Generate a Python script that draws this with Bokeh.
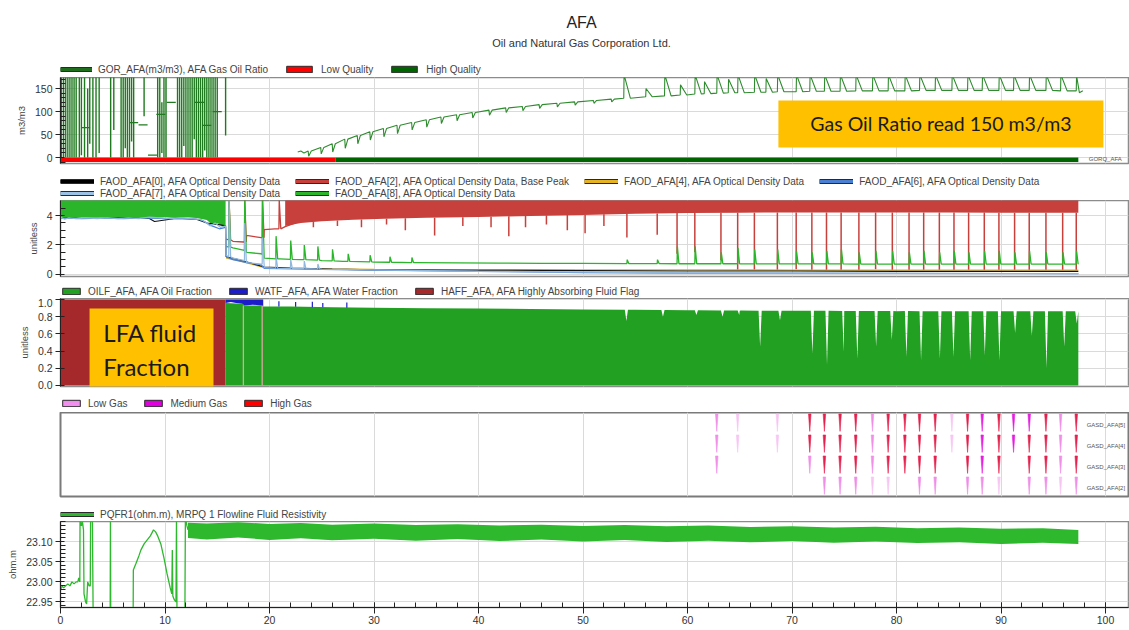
from bokeh.plotting import figure
from bokeh.models import (Range1d, FixedTicker, Legend, LegendItem, Label,
                          BoxAnnotation, PrintfTickFormatter)
from bokeh.layouts import column
from bokeh.embed import file_html
from bokeh.resources import INLINE
from bokeh.core.properties import value

NAN = float("nan")

# ====================== DATA ======================
x_ticks = [0, 10, 20, 30, 40, 50, 60, 70, 80, 90, 100]
x_minor = [0, 2, 4, 6, 8, 10, 12, 14, 16, 18, 20, 22, 24, 26, 28, 30, 32, 34, 36, 38, 40,
           42, 44, 46, 48, 50, 52, 54, 56, 58, 60, 62, 64, 66, 68, 70, 72, 74, 76, 78, 80,
           82, 84, 86, 88, 90, 92, 94, 96, 98, 100]

# ---- panel 1 : GOR ----
gor_ticks = [0, 50, 100, 150]
gor_minor = [-10, 10, 20, 30, 40, 60, 70, 80, 90, 110, 120, 130, 140, 160, 170]
gor_noise_x = [0.1, 0.3, 0.5, 0.7, 0.9, 1.1, 1.3, 1.5, 1.8, 2.0, 2.3, 2.6, 2.8, 3.1, 3.4, 3.7,
               4.8, 5.1, 5.8, 6.0, 6.2, 6.4, 6.6, 6.8, 7.0, 8.0, 9.3, 9.5, 9.7, 9.9, 10.1,
               11.2, 11.4, 11.6, 11.8, 12.0, 12.2, 12.4, 12.6, 12.8, 13.0, 13.2, 13.4, 13.6,
               13.8, 14.0, 14.2, 14.4, 14.6, 14.8, 15.0, 15.8]
gor_noise_lo = [0, 0, 0, 0, 0, 0, 0, 0, 0, 5, 0, 0, 30, 0, 0, 10,
                0, 60, 0, 0, 20, 0, 0, 35, 0, 90, 0, 0, 10, 0, 0,
                0, 0, 0, 25, 0, 0, 0, 0, 40, 0, 0, 0, 0, 15, 0, 0, 0, 0, 0, 0, 48]
gor_noise_hi = [180, 180, 180, 180, 180, 180, 180, 180, 180, 180, 180, 150, 180, 180, 180, 180,
                180, 180, 180, 180, 180, 180, 180, 180, 180, 180, 180, 180, 120, 180, 180,
                180, 180, 180, 180, 180, 180, 180, 180, 180, 180, 180, 180, 180, 180, 180,
                180, 180, 180, 180, 180, 180]
gor_mark_x = [2.4, 7.0, 7.9, 8.8, 9.6, 10.6, 13.3, 14.0, 15.0]
gor_mark_y = [65, 76, 71, 5, 94, 120, 120, 70, 100]
gor_base_x = [22.7, 23.0, 23.3, 97.5]
gor_base_y = [12, 14, 10, 141]
gor_ev_x = [23.7, 24.9, 26.0, 27.2, 28.4, 29.6, 30.9, 32.2, 33.6, 35.0, 36.4, 37.9, 39.4, 41.0,
            42.6, 44.2, 45.8, 47.5, 49.2, 51.0, 52.7,
            53.9, 56.0, 57.8, 59.3, 60.7, 61.6, 62.8, 63.9, 64.8, 66.4, 67.5, 68.6, 70.4, 71.7,
            73.1, 74.6, 76.1, 77.7, 79.2, 80.8, 82.2, 83.7, 85.3, 86.8, 88.2, 89.8, 91.2, 92.7,
            94.3, 95.7, 97.2]
gor_ev_base = [14, 22, 30, 40, 48, 56, 63, 70, 76, 82, 88, 93, 98, 103, 108, 111, 115, 118, 121,
               124, 127,
               129, 132, 134, 136, 138, 139, 140, 141, 141, 142, 142, 143, 143, 144, 144, 144,
               145, 145, 145, 145, 146, 146, 146, 146, 146, 146, 146, 146, 146, 145, 145]
gor_ev_ext = [3, 8, 12, 20, 30, 38, 45, 52, 60, 66, 74, 80, 86, 92, 98, 102, 107, 110, 114, 118,
              121,
              180, 150, 180, 158, 180, 165, 180, 170, 180, 180, 172, 180, 180, 180, 180, 180,
              180, 180, 180, 180, 180, 180, 180, 180, 180, 180, 180, 180, 180, 180, 178]
quality_start = [0.0, 26.3]
quality_end = [26.3, 97.4]
quality_color = ["#ff0000", "#006400"]

# ---- panel 2 : optical density ----
od_ticks = [0, 2, 4]
od_minor = [0.5, 1, 1.5, 2.5, 3, 3.5, 4.5]
g8_band_x = [0, 1, 2, 3, 4, 5, 6, 7, 8, 9, 10, 11, 12, 13, 14, 14.5, 15, 15.5, 15.8]
g8_band_lo = [3.88, 3.84, 3.88, 3.85, 3.88, 3.85, 3.88, 3.84, 3.9, 3.86, 3.88, 3.84, 3.88, 3.84,
              3.7, 3.4, 3.5, 3.3, 3.3]
g8_x = [15.85, 16.5, 17.5, 17.8, 19.2, 19.5, 21, 23, 25, 27, 30, 34, 38, 42, 46, 50, 55, 60,
        70, 80, 90, 97.4]
g8_y = [1.9, 1.8, 1.65, 1.5, 1.4, 1.1, 1.05, 1.0, 0.93, 0.88, 0.83, 0.8, 0.78, 0.76, 0.75,
        0.74, 0.73, 0.72, 0.71, 0.7, 0.7, 0.7]
g8_ev_x = [16.1, 17.6, 19.3, 20.6, 22.0, 23.3, 24.6, 26.0, 27.5, 29.6, 31.5, 33.6,
           54.2, 57.1, 59.0, 60.7, 63.2, 64.8, 66.4, 68.6, 70.4, 71.9, 73.3, 74.7, 76.4, 78.0,
           79.6, 81.2, 82.6, 84.1, 85.5, 86.9, 88.4, 89.8, 91.3, 92.7, 94.3, 95.9, 97.2]
g8_ev_base = [1.85, 1.6, 1.35, 1.05, 1.02, 1.0, 0.96, 0.92, 0.88, 0.85, 0.82, 0.8,
              0.73, 0.73, 0.72, 0.72, 0.72, 0.72, 0.71, 0.71, 0.71, 0.71, 0.71, 0.71, 0.7, 0.7,
              0.7, 0.7, 0.7, 0.7, 0.7, 0.7, 0.7, 0.7, 0.7, 0.7, 0.7, 0.7, 0.7]
g8_ev_peak = [5.1, 5.1, 5.1, 2.6, 2.3, 2.0, 1.9, 1.7, 1.4, 1.3, 1.2, 1.15,
              1.0, 1.0, 1.9, 1.9, 1.5, 1.8, 1.7, 1.7, 1.6, 1.5, 1.6, 1.7, 1.5, 1.6,
              1.6, 1.5, 1.6, 1.5, 1.6, 1.5, 1.6, 1.6, 1.5, 1.6, 1.5, 1.5, 1.6]
r2_x = [15.85, 16.5, 17.5, 17.8, 19.2, 19.5, 20.5, 21.5, 22.5]
r2_y = [2.4, 2.25, 2.2, 2.65, 2.5, 3.05, 3.1, 3.25, 3.5]
r2_ev_x = [16.1, 17.6, 19.3, 20.9]
r2_ev_base = [2.35, 2.2, 2.5, 3.1]
r2_ev_peak = [5.1, 5.1, 5.1, 5.1]
r2_band_x = [21.5, 23, 25, 28, 31, 35, 40, 45, 50, 55, 60, 65, 70, 75, 80, 85, 90, 95, 97.4]
r2_band_lo = [3.3, 3.5, 3.62, 3.72, 3.78, 3.85, 3.9, 3.98, 4.05, 4.12, 4.18, 4.2, 4.22, 4.22,
              4.22, 4.22, 4.2, 4.2, 4.2]
r2_dip_x = [24.2, 26.5, 28.8, 31.2, 33.0, 35.8, 38.5, 41.2, 42.9, 44.5, 46.5, 48.5, 50.2, 52.0,
            54.2, 57.1, 59.0, 60.7, 63.2, 64.8, 66.4, 68.6, 70.4, 71.9, 73.3, 74.7, 76.4, 78.0,
            79.6, 81.2, 82.6, 84.1, 85.5, 86.9, 88.4, 89.8, 91.3, 92.7, 94.3, 95.9, 97.2]
r2_dip_base = [3.58, 3.66, 3.73, 3.78, 3.82, 3.86, 3.88, 3.92, 3.95, 3.98, 4.02, 4.04, 4.05, 4.1,
               4.12, 4.15, 4.17, 4.18, 4.19, 4.2, 4.2, 4.21, 4.22, 4.22, 4.22, 4.22, 4.22, 4.22,
               4.22, 4.22, 4.22, 4.22, 4.22, 4.22, 4.21, 4.2, 4.2, 4.2, 4.2, 4.2, 4.2]
r2_dip_low = [3.2, 3.3, 3.2, 3.4, 3.0, 2.65, 3.3, 3.2, 2.6, 3.2, 3.4, 3.0, 2.8, 3.3,
              2.5, 2.7, 1.4, 1.5, 0.95, 0.3, 0.3, 0.3, 0.35, 0.3, 0.3, 0.3, 0.3, 0.35,
              0.3, 0.3, 0.3, 0.3, 0.3, 0.3, 0.3, 0.3, 0.3, 0.3, 0.3, 0.3, 0.3]
f4_x = [15.85, 17, 19.5, 22, 26, 30, 35, 40, 50, 60, 70, 80, 90, 97.4]
f4_y = [1.1, 0.95, 0.45, 0.4, 0.36, 0.33, 0.32, 0.32, 0.3, 0.3, 0.29, 0.29, 0.28, 0.28]
f0_x = [0, 3, 6, 8.5, 9, 11, 13, 14, 15, 15.8, 15.85, 17, 19.5, 22, 26, 30, 40, 50, 60, 70,
        80, 90, 97.4]
f0_y = [3.85, 3.8, 3.85, 3.8, 3.6, 3.8, 3.75, 3.5, 3.4, 3.3, 1.2, 1.0, 0.5, 0.42, 0.35, 0.3,
        0.28, 0.25, 0.22, 0.22, 0.2, 0.2, 0.2]
f6_x = [0, 2, 4, 6, 8, 10, 12, 13.5, 14.5, 15.2, 15.8, 15.85, 16.5, 17.5, 17.8, 19.2, 19.5, 21,
        25, 30, 40, 50, 60, 97.4]
f6_y = [3.85, 3.8, 3.82, 3.8, 3.85, 3.8, 3.82, 3.7, 3.3, 3.1, 3.2, 1.2, 1.0, 0.85, 0.8, 0.65,
        0.4, 0.38, 0.33, 0.28, 0.2, 0.12, 0.08, 0.05]
f7_x = [0, 0.4, 0.8, 1.5, 2.5, 3.5, 4.5, 5.5, 6.5, 7.5, 8.5, 9.5, 10.5, 11.5, 12.5, 13.3, 13.8,
        14.3, 14.8, 15.3, 15.8, 15.85, 16.5, 17.5, 17.8, 19.2, 19.5, 21, 23, 25, 30, 35, 40, 50,
        60, 70, 80, 90, 97.4]
f7_y = [3.9, 3.75, 3.85, 3.8, 3.85, 3.8, 3.85, 3.8, 3.85, 3.8, 3.9, 3.85, 3.8, 3.85, 3.8, 3.75,
        3.6, 3.3, 3.5, 3.2, 3.3, 1.3, 1.1, 0.95, 0.8, 0.7, 0.45, 0.4, 0.38, 0.35, 0.3, 0.25, 0.2,
        0.15, 0.1, 0.08, 0.06, 0.05, 0.05]
f7_ev_x = [16.1, 17.6, 19.3, 20.6, 22.0, 23.3, 24.6]
f7_ev_base = [1.2, 0.9, 0.7, 0.42, 0.4, 0.38, 0.36]
f7_ev_peak = [5.1, 3.5, 2.5, 1.2, 1.0, 0.9, 0.7]

# ---- panel 3 : fluid fractions ----
fr_ticks = [0.0, 0.2, 0.4, 0.6, 0.8, 1.0]
haff_start = [0.0]
haff_end = [15.8]
haff_line_x = [17.5, 19.3]
oil_x = [15.8, 17.4, 17.6, 19.2, 19.4, 22, 26, 30, 35, 40, 45, 50, 55, 60, 65, 70, 75, 80, 85,
         90, 95, 97.4]
oil_y = [0.96, 0.95, 0.93, 0.93, 0.92, 0.92, 0.91, 0.905, 0.9, 0.895, 0.89, 0.885, 0.88, 0.875,
         0.87, 0.87, 0.868, 0.865, 0.865, 0.865, 0.865, 0.865]
oil_dip_x = [54.0, 57.5, 60.7, 63.2, 64.8, 66.8, 68.7, 71.8, 73.2, 74.8, 76.1, 77.9, 79.4, 80.8,
             82.2, 84.0, 85.3, 86.9, 88.3, 89.7, 91.2, 92.8, 94.2, 95.9, 97.1]
oil_dip_base = [0.88, 0.878, 0.875, 0.873, 0.872, 0.87, 0.87, 0.87, 0.869, 0.868, 0.868, 0.867,
                0.866, 0.866, 0.865, 0.865, 0.865, 0.865, 0.865, 0.865, 0.865, 0.865, 0.865,
                0.865, 0.865]
oil_dip_low = [0.75, 0.8, 0.82, 0.8, 0.82, 0.45, 0.76, 0.37, 0.24, 0.39, 0.31, 0.45, 0.53, 0.33,
               0.29, 0.31, 0.33, 0.29, 0.35, 0.29, 0.61, 0.58, 0.2, 0.45, 0.72]
wat_x = [15.8, 16.3, 16.8, 17.4, 17.6, 18.4, 19.2, 19.4]
wat_lo = [0.96, 0.97, 0.96, 0.95, 0.93, 0.94, 0.93, 0.92]
wat_hi = [1.0, 1.0, 1.0, 1.0, 1.0, 1.0, 1.0, 1.0]
wat_tick_x = [20.9, 22.5, 24.1, 25.1, 27.4]
wat_tick_lo = [0.92, 0.915, 0.91, 0.91, 0.905]
wat_tick_hi = [0.98, 0.97, 0.975, 0.96, 0.965]

# ---- panel 4 : gas detection ----
gas_x = [62.8, 64.8, 68.6, 71.7, 73.1, 74.6, 76.1, 77.7, 79.2, 80.8, 82.2, 83.7, 85.3, 86.8,
         88.2, 89.8, 91.2, 92.7, 94.3, 95.7, 97.2]
gas5 = ["L", "l", "l", "H", "H", "H", "H", "L", "H", "H", "H", "H", "l", "H", "M", "H", "M", "M", "H", "L", "H"]
gas4 = ["L", "l", "l", "H", "H", "H", "H", "L", "H", "H", "H", "H", "l", "H", "M", "H", "M", "H", "H", "L", "H"]
gas3 = ["L", "", "", "L", "H", "H", "H", "L", "H", "H", "H", "H", "", "H", "M", "H", "", "H", "H", "L", "H"]
gas2 = ["", "", "", "", "L", "L", "L", "l", "l", "", "L", "L", "", "L", "L", "l", "", "L", "L", "l", "L"]
gas_lanes = ["GASD_AFA[5]", "GASD_AFA[4]", "GASD_AFA[3]", "GASD_AFA[2]"]

# ---- panel 5 : resistivity ----
res_ticks = [22.95, 23.00, 23.05, 23.10]
res_minor = [22.94, 22.96, 22.97, 22.98, 22.99, 23.01, 23.02, 23.03, 23.04, 23.06, 23.07, 23.08,
             23.09, 23.11, 23.12, 23.13, 23.14, 23.15]
res_x = [0.0, 0.15, 0.3, 0.5, 0.7, 0.9, 1.1, 1.3, 1.5, 1.65, 1.75, 1.85, 1.87, 2.0, 2.1, 2.2,
         2.25, 2.4, 2.5, 2.6, 2.75, 2.85, 2.88, 3.05, 3.13, 4.75, 4.78, 4.81, 6.95, 6.97, 7.2,
         7.5, 7.7, 8.0, 8.3, 8.6, 8.9, 9.1, 9.3, 9.6, 9.9, 10.2, 10.5, 10.65, 10.7, 10.75, 10.9,
         11.05, 11.1, 11.15, 11.9, 11.95, 12.1, 12.2]
res_y = [22.98, 22.99, 22.985, 22.99, 22.995, 22.99, 23.0, 22.995, 23.0, 23.0, 23.01, 23.0,
         23.16, 23.14, 23.15, 23.13, 22.97, 22.95, 22.945, 23.0, 22.99, 22.99, 23.16, 23.16,
         22.9, 22.9, 23.16, 22.9, 22.9, 23.03, 23.045, 23.065, 23.08, 23.095, 23.105, 23.115,
         23.13, 23.125, 23.115, 23.095, 23.06, 23.02, 22.985, 22.97, 23.08, 22.965, 22.955,
         22.95, 23.16, 22.9, 22.9, 23.16, 23.14, 23.13]
res_band_x = [12.2, 14, 17, 20, 23, 26, 30, 34, 38, 42, 46, 50, 54, 58, 62, 66, 70, 74, 78, 82,
              86, 90, 94, 97.4]
res_band_hi = [23.148, 23.146, 23.149, 23.145, 23.147, 23.143, 23.146, 23.142, 23.144, 23.141,
               23.143, 23.14, 23.142, 23.139, 23.141, 23.137, 23.139, 23.136, 23.138, 23.134,
               23.136, 23.133, 23.134, 23.13]
res_band_lo = [23.11, 23.106, 23.111, 23.105, 23.109, 23.104, 23.108, 23.103, 23.107, 23.102,
               23.106, 23.101, 23.105, 23.1, 23.103, 23.099, 23.102, 23.098, 23.101, 23.097,
               23.099, 23.095, 23.098, 23.095]


# ====================== helpers ======================
def with_events(bx, by, ex, eb, ee, up=(0.03, 0.15), down=(0.05, 0.3)):
    pts = [(x, y, 0) for x, y in zip(bx, by)]
    for x, b, e in zip(ex, eb, ee):
        rise, fall = up if e > b else down
        pts += [(x, b, 1), (x + rise, e, 2), (x + rise + fall, b, 3)]
    pts.sort(key=lambda t: (t[0], t[2]))
    return [t[0] for t in pts], [t[1] for t in pts]


FONT = "Liberation Sans"
XR = Range1d(0, 102.2)
W = 1129
LB = 60


def new_fig(h, yr, bottom=0):
    p = figure(width=W, height=h, x_range=XR, y_range=Range1d(*yr),
               output_backend="svg", toolbar_location=None,
               min_border_left=LB, min_border_right=1, min_border_top=0,
               min_border_bottom=bottom)
    p.title.visible = False
    return p


def plot_fig(fh, yr, bottom):
    p = new_fig(fh + bottom, yr, bottom)
    p.outline_line_color = "#8c8c8c"
    p.outline_line_width = 1.5
    p.grid.grid_line_color = "#dadada"
    p.xgrid.ticker = FixedTicker(ticks=x_ticks)
    p.xaxis.visible = False
    return p


def style_y(p, ticks, minor, label, fmt=None):
    ax = p.yaxis[0]
    ax.ticker = FixedTicker(ticks=ticks, minor_ticks=minor)
    p.ygrid.ticker = FixedTicker(ticks=ticks)
    ax.axis_label = label
    ax.axis_label_text_font = FONT
    ax.axis_label_text_font_size = "9.5px"
    ax.axis_label_text_font_style = "normal"
    ax.axis_label_text_color = "#444444"
    ax.axis_label_standoff = 5
    ax.major_label_text_font = FONT
    ax.major_label_text_font_size = "10.5px"
    ax.major_label_text_color = "#333333"
    ax.major_label_standoff = 3
    ax.major_tick_in = 4
    ax.major_tick_out = 5
    ax.minor_tick_in = 5
    ax.minor_tick_out = 0
    ax.axis_line_color = "#222222"
    ax.major_tick_line_color = "#222222"
    ax.minor_tick_line_color = "#222222"
    if fmt:
        ax.formatter = PrintfTickFormatter(format=fmt)


def line_item(p, label, color):
    r1 = p.line(x=[NAN], y=[NAN], line_width=5, line_color="#2a2a2a")
    r2 = p.line(x=[NAN], y=[NAN], line_width=3, line_color=color)
    return LegendItem(label=value(label), renderers=[r1, r2])


def box_item(p, label, color):
    r = p.quad(left=[NAN], right=[NAN], top=[NAN], bottom=[NAN], fill_color=color,
               line_color="#2a2a2a")
    return LegendItem(label=value(label), renderers=[r])


def legend_fig(h, rows, gw):
    f = new_fig(h, (0, 1))
    f.axis.visible = False
    f.grid.visible = False
    f.outline_line_color = None
    for specs, gap in rows:
        items = [line_item(f, lab, col) if kind == "line" else box_item(f, lab, col)
                 for kind, lab, col in specs]
        f.add_layout(Legend(items=items, orientation="horizontal", location=(0, gap), margin=0,
                            padding=0, spacing=15, glyph_width=gw, glyph_height=8,
                            label_height=12, label_standoff=6, label_text_font=FONT,
                            label_text_font_size="10px", label_text_color="#444444",
                            background_fill_alpha=0, border_line_alpha=0))
    return f


# ====================== title ======================
t0 = new_fig(61, (0, 61))
t0.axis.visible = False
t0.grid.visible = False
t0.outline_line_color = None
t0.add_layout(Label(x=49.86, y=39, text="AFA", text_font=FONT, text_font_size="16px",
                    text_align="center", text_baseline="middle", text_color="#222222"))
t0.add_layout(Label(x=49.86, y=19, text="Oil and Natural Gas Corporation Ltd.", text_font=FONT,
                    text_font_size="11px", text_align="center", text_baseline="middle",
                    text_color="#333333"))

# ====================== panel 1 ======================
l1 = legend_fig(16, [([("line", "GOR_AFA(m3/m3), AFA Gas Oil Ratio", "#1e6e1e"),
                       ("box", "Low Quality", "#ff0000"),
                       ("box", "High Quality", "#006400")], 2)], 32)
p1 = plot_fig(86, (-13, 174), 6)
style_y(p1, gor_ticks, gor_minor, "m3/m3")
p1.segment(x0=gor_noise_x, y0=gor_noise_lo, x1=gor_noise_x, y1=gor_noise_hi,
           line_color="#1f7a1f", line_width=1.4)
p1.scatter(gor_mark_x, gor_mark_y, marker="dash", size=9, line_color="#1f7a1f", line_width=1.2)
gx, gy = with_events(gor_base_x, gor_base_y, gor_ev_x, gor_ev_base, gor_ev_ext,
                     up=(0.03, 0.6), down=(0.05, 0.25))
p1.line(gx, gy, line_color="#2e8b2e", line_width=1.1)
p1.quad(left=quality_start, right=quality_end, bottom=-10, top=0, fill_color=quality_color,
        line_color=None)
p1.add_layout(BoxAnnotation(left=68.7, right=99.8, bottom=21.7, top=124, fill_color="#ffc000",
                            fill_alpha=1, line_alpha=0))
p1.add_layout(Label(x=84.25, y=73, text="Gas Oil Ratio read 150 m3/m3", text_font="Lato",
                    text_font_size="19.5px", text_align="center", text_baseline="middle",
                    text_color="#1a1a1a"))
p1.add_layout(Label(x=98.4, y=-4, text="GORQ_AFA", text_font=FONT, text_font_size="6px",
                    text_baseline="middle", text_color="#555555"))

# ====================== panel 2 ======================
RED = "#c8403c"
GREEN2 = "#2ab52a"
l2 = legend_fig(31, [([("line", "FAOD_AFA[0], AFA Optical Density Data", "#000000"),
                       ("line", "FAOD_AFA[2], AFA Optical Density Data, Base Peak", RED),
                       ("line", "FAOD_AFA[4], AFA Optical Density Data", "#e6b422"),
                       ("line", "FAOD_AFA[6], AFA Optical Density Data", "#4a7fd4")], 13),
                     ([("line", "FAOD_AFA[7], AFA Optical Density Data", "#9cc3e6"),
                       ("line", "FAOD_AFA[8], AFA Optical Density Data", GREEN2)], 1)], 34)
p2 = plot_fig(76, (-0.15, 5.03), 3)
style_y(p2, od_ticks, od_minor, "unitless")
p2.varea(x=g8_band_x, y1=g8_band_lo, y2=5.1, fill_color=GREEN2)
p2.varea(x=r2_band_x, y1=r2_band_lo, y2=5.1, fill_color=RED)
rx, ry = with_events(r2_x, r2_y, r2_ev_x, r2_ev_base, r2_ev_peak)
p2.line(rx, ry, line_color=RED, line_width=1.3)
p2.segment(x0=r2_dip_x, y0=r2_dip_low, x1=r2_dip_x, y1=r2_dip_base, line_color=RED,
           line_width=1.5)
gx8, gy8 = with_events(g8_x, g8_y, g8_ev_x, g8_ev_base, g8_ev_peak)
p2.line(gx8, gy8, line_color=GREEN2, line_width=1.3)
p2.line(f4_x, f4_y, line_color="#e0b020", line_width=1.3)
p2.line(f0_x, f0_y, line_color="#111111", line_width=1.1)
p2.line(f6_x, f6_y, line_color="#4a7fd4", line_width=1.2)
fx7, fy7 = with_events(f7_x, f7_y, f7_ev_x, f7_ev_base, f7_ev_peak)
p2.line(fx7, fy7, line_color="#8fb8dc", line_width=1.2)

# ====================== panel 3 ======================
OIL = "#22a022"
l3 = legend_fig(19, [([("box", "OILF_AFA, AFA Oil Fraction", OIL),
                       ("box", "WATF_AFA, AFA Water Fraction", "#1c1cc8"),
                       ("box", "HAFF_AFA, AFA Highly Absorbing Fluid Flag", "#a5282a")], 1)], 22)
p3 = plot_fig(88, (-0.012, 1.012), 4)
style_y(p3, fr_ticks, [], "unitless", "%.1f")
p3.yaxis[0].minor_tick_line_color = None
p3.quad(left=haff_start, right=haff_end, bottom=0, top=1, fill_color="#a5282a", line_color=None)
ox, oy = with_events(oil_x, oil_y, oil_dip_x, oil_dip_base, oil_dip_low, down=(0.15, 0.15))
p3.varea(x=ox, y1=0, y2=oy, fill_color=OIL)
p3.varea(x=wat_x, y1=wat_lo, y2=wat_hi, fill_color="#1c1cc8")
p3.segment(x0=wat_tick_x, y0=wat_tick_lo, x1=wat_tick_x, y1=wat_tick_hi, line_color="#1c1cc8",
           line_width=1.2)
p3.segment(x0=haff_line_x, y0=0, x1=haff_line_x, y1=0.93, line_color="#d8a8a0", line_width=1.3)
p3.add_layout(BoxAnnotation(left=2.78, right=14.64, bottom=-0.03, top=0.895,
                            fill_color="#ffc000", fill_alpha=1, line_alpha=0))
p3.add_layout(Label(x=4.1, y=0.616, text="LFA fluid", text_font="Lato", text_font_size="24px",
                    text_baseline="middle", text_color="#1a1a1a"))
p3.add_layout(Label(x=4.1, y=0.221, text="Fraction", text_font="Lato", text_font_size="24px",
                    text_baseline="middle", text_color="#1a1a1a"))

# ====================== panel 4 ======================
l4 = legend_fig(22, [([("box", "Low Gas", "#f28ef0"),
                       ("box", "Medium Gas", "#e000e0"),
                       ("box", "High Gas", "#ff0000")], 3)], 22)
p4 = plot_fig(84, (0, 4), 3)
p4.yaxis.visible = False
p4.ygrid.visible = False
p4.outline_line_color = "#7a7a7a"
p4.outline_line_width = 2
gas_colors = {"l": "#f7c6f3", "L": "#f08ee8", "M": "#e61ee0", "H": "#e6204e"}
xs, ys, cs = [], [], []
for lane, levels in zip([3, 2, 1, 0], [gas5, gas4, gas3, gas2]):
    for gx_, lv in zip(gas_x, levels):
        if lv:
            xs.append([gx_ - 0.12, gx_ + 0.12, gx_])
            ys.append([lane + 0.93, lane + 0.93, lane + 0.1])
            cs.append(gas_colors[lv])
p4.patches(xs, ys, fill_color=cs, line_color=cs, line_width=0.6)
for lane, name in zip([3, 2, 1, 0], gas_lanes):
    p4.add_layout(Label(x=98.2, y=lane + 0.4, text=name, text_font=FONT, text_font_size="6px",
                        text_baseline="middle", text_color="#555555"))

# ====================== panel 5 ======================
RES = "#2db82d"
l5 = legend_fig(22, [([("line", "PQFR1(ohm.m), MRPQ 1 Flowline Fluid Resistivity", RES)], 1)], 34)
p5 = plot_fig(86, (22.936, 23.151), 23)
style_y(p5, res_ticks, res_minor, "ohm.m", "%.2f")
p5.xaxis.visible = True
xa = p5.xaxis[0]
xa.ticker = FixedTicker(ticks=x_ticks, minor_ticks=x_minor)
xa.major_label_text_font = FONT
xa.major_label_text_font_size = "10.5px"
xa.major_label_text_color = "#333333"
xa.major_label_standoff = 2
xa.major_tick_in = 5
xa.major_tick_out = 6
xa.minor_tick_in = 5
xa.minor_tick_out = 0
xa.axis_line_color = "#222222"
xa.major_tick_line_color = "#222222"
xa.minor_tick_line_color = "#222222"
p5.line(res_x, res_y, line_color=RES, line_width=1.3)
p5.varea(x=res_band_x, y1=res_band_lo, y2=res_band_hi, fill_color=RES)

layout = column(t0, l1, p1, l2, p2, l3, p3, l4, p4, l5, p5, spacing=0)
open("out.html", "w").write(file_html(layout, INLINE))
